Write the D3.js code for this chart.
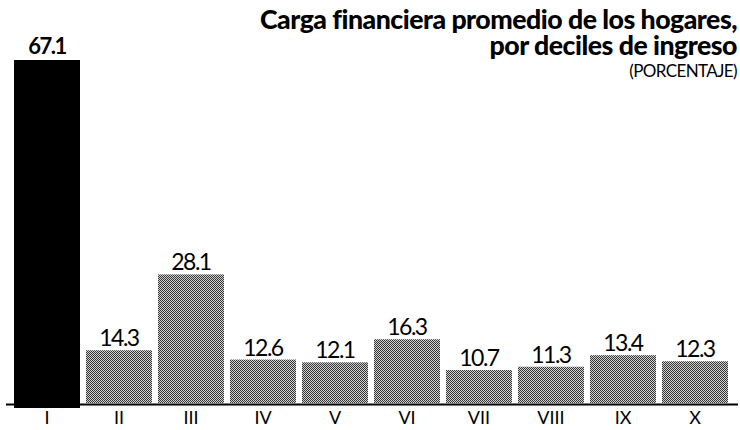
<!DOCTYPE html>
<html>
<head>
<meta charset="utf-8">
<script src="https://cdn.jsdelivr.net/npm/d3@7"></script>
<style>
  html, body { margin: 0; padding: 0; background: #fff; }
  svg { display: block; }
</style>
</head>
<body>
<svg id="chart" width="740" height="430"></svg>
<script>
const categories = ["I", "II", "III", "IV", "V", "VI", "VII", "VIII", "IX", "X"];
const values = [67.1, 14.3, 28.1, 12.6, 12.1, 16.3, 10.7, 11.3, 13.4, 12.3];
const valueLabels = ["67.1", "14.3", "28.1", "12.6", "12.1", "16.3", "10.7", "11.3", "13.4", "12.3"];
const titleLines = ["Carga financiera promedio de los hogares,", "por deciles de ingreso"];
const subtitle = "(PORCENTAJE)";
const highlight = ["I"];

const svg = d3.select("#chart");
const baseline = 403;
const FONT = "Lato, 'Open Sans', sans-serif";

// halftone pattern
const defs = svg.append("defs");
const pat = defs.append("pattern").attr("id", "halftone")
  .attr("width", 2).attr("height", 2).attr("patternUnits", "userSpaceOnUse");
pat.append("rect").attr("width", 2).attr("height", 2).attr("fill", "#d2d2d2");
pat.append("rect").attr("x", 0).attr("y", 0).attr("width", 1).attr("height", 1).attr("fill", "#333");
pat.append("rect").attr("x", 1).attr("y", 1).attr("width", 1).attr("height", 1).attr("fill", "#333");

const x = d3.scaleBand().domain(categories).range([11, 731])
  .paddingInner(0.0833).paddingOuter(0.0417);
const y = d3.scaleLinear().domain([4.7, 67.1]).range([baseline, 60]);

const data = categories.map((c, i) => ({ c, v: values[i], label: valueLabels[i] }));

svg.append("g").selectAll("rect").data(data).join("rect")
  .attr("x", d => x(d.c))
  .attr("y", d => y(d.v))
  .attr("width", x.bandwidth())
  .attr("height", d => baseline - y(d.v) + (highlight.includes(d.c) ? 5 : 0))
  .attr("fill", d => highlight.includes(d.c) ? "#000" : "url(#halftone)");

svg.append("g").selectAll("text").data(data).join("text")
  .attr("x", d => x(d.c) + x.bandwidth() / 2)
  .attr("y", d => y(d.v) - (highlight.includes(d.c) ? 6 : 4))
  .attr("text-anchor", "middle")
  .attr("font-family", FONT)
  .attr("font-size", d => highlight.includes(d.c) ? 22 : 23)
  .attr("font-weight", d => highlight.includes(d.c) ? 700 : 400)
  .attr("letter-spacing", "-1.5px")
  .attr("fill", "#000")
  .text(d => d.label);

// x axis
const axis = d3.axisBottom(x).tickSize(0).tickPadding(4);
const gx = svg.append("g").attr("transform", `translate(0,${baseline + 1})`).call(axis);
gx.select(".domain").remove();
gx.selectAll("text")
  .attr("font-family", FONT)
  .attr("font-size", 18)
  .attr("fill", "#000")
  .attr("dy", "0.9em");
svg.append("line")
  .attr("x1", 6).attr("x2", 738)
  .attr("y1", baseline + 1.5).attr("y2", baseline + 1.5)
  .attr("stroke", "#000").attr("stroke-width", 2);

// title
const tg = svg.append("g").attr("font-family", FONT).attr("text-anchor", "end");
const tl = tg.selectAll("text.t").data(titleLines).join("text")
  .attr("class", "t")
  .attr("x", 737)
  .attr("y", (d, i) => 29 + i * 26)
  .attr("font-size", 24)
  .attr("font-weight", 900)
  .attr("letter-spacing", "-0.5px")
  .attr("fill", "#000")
  .text(d => d);
// fit first title line to the reference width
const w0 = tl.node().getComputedTextLength();
const fs = Math.max(18, Math.min(28, 24 * 475 / w0));
tl.attr("font-size", fs);
tg.append("text")
  .attr("x", 737).attr("y", 77)
  .attr("font-size", 17)
  .attr("font-weight", 400)
  .attr("letter-spacing", "-0.6px")
  .attr("fill", "#000")
  .text(subtitle);
</script>
</body>
</html>
